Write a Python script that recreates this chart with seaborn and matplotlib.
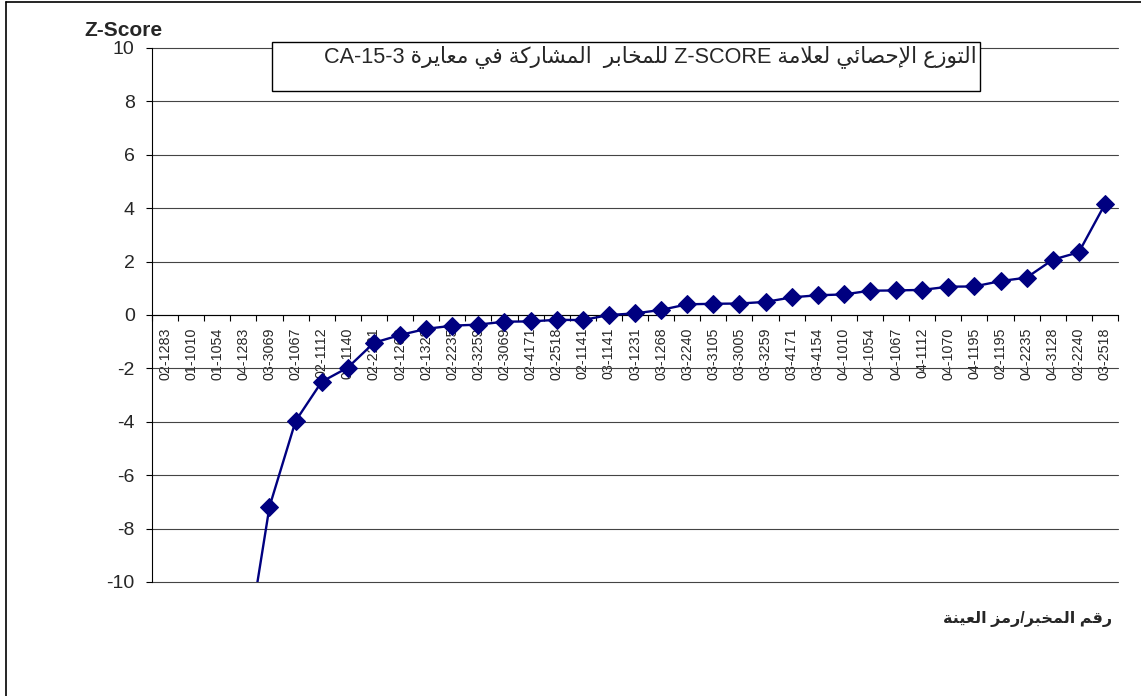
import numpy as np
import pandas as pd
import matplotlib
matplotlib.use("Agg")
import matplotlib.pyplot as plt
from matplotlib.patches import Rectangle
from matplotlib.lines import Line2D
from matplotlib.ticker import FixedLocator, NullFormatter
import seaborn as sns

# ---------------- data ----------------
lab_codes = ["02-1283", "01-1010", "01-1054", "04-1283", "03-3069", "02-1067",
             "02-1112", "02-1140", "02-2231", "02-1268", "02-1328", "02-2235",
             "02-3259", "02-3069", "02-4171", "02-2518", "02-1141", "03-1141",
             "03-1231", "03-1268", "03-2240", "03-3105", "03-3005", "03-3259",
             "03-4171", "03-4154", "04-1010", "04-1054", "04-1067", "04-1112",
             "04-1070", "04-1195", "02-1195", "04-2235", "04-3128", "02-2240",
             "03-2518"]
z_scores = [-40.0, -25.0, -18.0, -13.3, -7.18, -3.97,
            -2.50, -1.97, -1.04, -0.75, -0.52, -0.40,
            -0.36, -0.25, -0.24, -0.18, -0.19, 0.00,
            0.06, 0.19, 0.40, 0.42, 0.43, 0.49,
            0.66, 0.74, 0.77, 0.91, 0.92, 0.94,
            1.06, 1.07, 1.27, 1.40, 2.07, 2.35,
            4.15]
y_ticks = [-10, -8, -6, -4, -2, 0, 2, 4, 6, 8, 10]

title_words = ["التوزع", " ", "الإحصائي", " ", "لعلامة", " ", "Z-SCORE", " ",
               "للمخابر", "  ", "المشاركة", " ", "في", " ", "معايرة", " ", "CA-15-3"]
xlabel_words = ["رقم", " ", "المخبر", "/", "رمز", " ", "العينة"]
ylabel_text = "Z-Score"

# ---------------- simple Arabic shaping (presentation forms) ----------------
FORMS = {
    'ا': ('\uFE8D', '\uFE8E', None, None),
    'إ': ('\uFE87', '\uFE88', None, None),
    'ب': ('\uFE8F', '\uFE90', '\uFE91', '\uFE92'),
    'ة': ('\uFE93', '\uFE94', None, None),
    'ت': ('\uFE95', '\uFE96', '\uFE97', '\uFE98'),
    'ح': ('\uFEA1', '\uFEA2', '\uFEA3', '\uFEA4'),
    'خ': ('\uFEA5', '\uFEA6', '\uFEA7', '\uFEA8'),
    'ر': ('\uFEAD', '\uFEAE', None, None),
    'ز': ('\uFEAF', '\uFEB0', None, None),
    'ش': ('\uFEB5', '\uFEB6', '\uFEB7', '\uFEB8'),
    'ص': ('\uFEB9', '\uFEBA', '\uFEBB', '\uFEBC'),
    'ع': ('\uFEC9', '\uFECA', '\uFECB', '\uFECC'),
    'ف': ('\uFED1', '\uFED2', '\uFED3', '\uFED4'),
    'ق': ('\uFED5', '\uFED6', '\uFED7', '\uFED8'),
    'ك': ('\uFED9', '\uFEDA', '\uFEDB', '\uFEDC'),
    'ل': ('\uFEDD', '\uFEDE', '\uFEDF', '\uFEE0'),
    'م': ('\uFEE1', '\uFEE2', '\uFEE3', '\uFEE4'),
    'ن': ('\uFEE5', '\uFEE6', '\uFEE7', '\uFEE8'),
    'و': ('\uFEED', '\uFEEE', None, None),
    'ي': ('\uFEF1', '\uFEF2', '\uFEF3', '\uFEF4'),
    'ئ': ('\uFE89', '\uFE8A', '\uFE8B', '\uFE8C'),
}
LAM_ALEF = {'ا': ('\uFEFB', '\uFEFC'), 'إ': ('\uFEF9', '\uFEFA')}


def is_arabic(s):
    return any('\u0600' <= ch <= '\u06FF' for ch in s)


def shape_word(w):
    toks = []
    i = 0
    while i < len(w):
        c = w[i]
        if c == 'ل' and i + 1 < len(w) and w[i + 1] in LAM_ALEF:
            toks.append(('LA', w[i + 1]))
            i += 2
        else:
            toks.append(('C', c))
            i += 1

    def dual(t):
        return t[0] == 'C' and t[1] in FORMS and FORMS[t[1]][2] is not None

    def arab(t):
        return t[0] == 'LA' or t[1] in FORMS

    out = []
    for k, t in enumerate(toks):
        prev_join = k > 0 and dual(toks[k - 1])
        if t[0] == 'LA':
            iso, fin = LAM_ALEF[t[1]]
            out.append(fin if prev_join else iso)
            continue
        c = t[1]
        if c not in FORMS:
            out.append(c)
            continue
        next_join = dual(t) and k + 1 < len(toks) and arab(toks[k + 1])
        f = FORMS[c]
        if prev_join and next_join:
            out.append(f[3])
        elif prev_join:
            out.append(f[1])
        elif next_join:
            out.append(f[2])
        else:
            out.append(f[0])
    return ''.join(reversed(out))


def visual_rtl(words):
    return ''.join(shape_word(w) if is_arabic(w) else w for w in reversed(words))


# ---------------- style ----------------
sns.set_theme(style="white")
plt.rcParams['font.family'] = ['Liberation Sans', 'DejaVu Sans']
plt.rcParams['axes.unicode_minus'] = False

W, H = 1141, 696
fig = plt.figure(figsize=(W / 100, H / 100), dpi=100)
fig.patch.set_facecolor("white")
ax = fig.add_axes([152 / W, 1 - 582 / H, 966 / W, 534 / H])
ax.set_facecolor("white")

df = pd.DataFrame({"pos": np.arange(len(lab_codes)) + 0.5, "z": z_scores, "code": lab_codes})
sns.lineplot(data=df, x="pos", y="z", sort=False, ax=ax, color="#000080",
             linewidth=1.7, marker="D", markersize=9, markeredgecolor="#000080",
             markerfacecolor="#000080", zorder=5)

ax.set_xlim(0, len(lab_codes))
ax.set_ylim(-10, 10)
ax.set_xlabel("")
ax.set_ylabel("")

# y axis
ax.set_yticks(y_ticks)
ax.set_yticklabels([str(v) for v in y_ticks], fontsize=14)
ax.yaxis.grid(True, color="#444444", linewidth=0.8)
ax.xaxis.grid(False)
ax.tick_params(axis="y", which="major", direction="out", length=4.5, width=0.8,
               color="black", pad=8, left=True)

# x axis at zero
ax.spines["bottom"].set_position(("data", 0))
ax.spines["bottom"].set_color("black")
ax.spines["bottom"].set_linewidth(0.8)
ax.spines["left"].set_color("black")
ax.spines["left"].set_linewidth(0.8)
ax.spines["top"].set_visible(False)
ax.spines["right"].set_visible(False)
ax.set_xticks(df["pos"].values)
ax.set_xticklabels(lab_codes, rotation=90, fontsize=10.3, va="top", ha="center")
ax.xaxis.set_minor_locator(FixedLocator(np.arange(0, len(lab_codes) + 1)))
ax.xaxis.set_minor_formatter(NullFormatter())
ax.tick_params(axis="x", which="major", length=0, pad=9, bottom=True)
ax.tick_params(axis="x", which="minor", direction="out", length=4, width=0.8,
               color="black", bottom=True)

fig.canvas.draw()
for gl in ax.yaxis.get_gridlines():
    gl.set_clip_on(False)

# title box
fig.add_artist(Rectangle((272 / W, 1 - 91 / H), (980 - 272) / W, (91 - 42) / H,
                         transform=fig.transFigure, facecolor="white",
                         edgecolor="black", linewidth=1.0, zorder=10))
fig.text(977 / W, 1 - 57 / H, visual_rtl(title_words), ha="right", va="center",
         fontsize=15.6, zorder=11)

# axis titles
fig.text(84 / W, 1 - 31 / H, ylabel_text, ha="left", va="center",
         fontsize=15, fontweight="bold")
fig.text(1112 / W, 1 - 619 / H, visual_rtl(xlabel_words), ha="right", va="center",
         fontsize=11.5, fontweight="bold")

# chart-area border (left and top edges)
fig.add_artist(Line2D([6 / W, 6 / W], [0, 1 - 1.5 / H], transform=fig.transFigure,
                      color="black", linewidth=1.2))
fig.add_artist(Line2D([6 / W, 1.01], [1 - 1.5 / H, 1 - 1.5 / H], transform=fig.transFigure,
                      color="black", linewidth=1.2))

fig.savefig("out.png", dpi=100, facecolor="white")
